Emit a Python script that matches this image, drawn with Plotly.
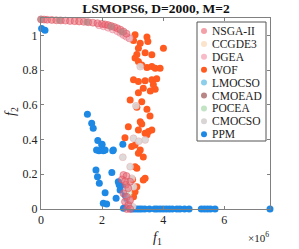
import plotly.graph_objects as go

# ---------------- data (f1 in units of 1e6) ----------------
series_names = ["NSGA-II", "CCGDE3", "DGEA", "WOF", "LMOCSO", "CMOEAD", "POCEA", "CMOCSO", "PPM"]

nsga_f1 = [0.0, 0.1, 0.2, 0.35, 0.5, 0.65, 0.8, 0.95, 1.1, 1.25, 1.4, 1.55, 1.7, 1.85, 2.0, 2.1, 2.2,
           2.3, 2.4, 2.5, 2.6, 2.7, 2.8,
           2.70, 2.80, 2.92, 2.78, 2.86, 2.70, 2.81, 2.75, 2.86, 2.81, 2.92, 2.92, 2.65, 2.75]
nsga_f2 = [1.092, 1.091, 1.09, 1.089, 1.087, 1.086, 1.085, 1.083, 1.082, 1.08, 1.078, 1.076, 1.073,
           1.07, 1.066, 1.063, 1.059, 1.054, 1.048, 1.041, 1.033, 1.022, 1.01,
           0.196, 0.19, 0.157, 0.14, 0.12, 0.09, 0.07, 0.042, 0.023, 0.0, 0.0, 0.05, 0.17, 0.16]

ccgde3_f1 = [0.4, 1.2, 2.15, 2.55]
ccgde3_f2 = [1.088, 1.08, 1.055, 1.03]

dgea_f1 = [1.9, 2.05, 2.2, 2.35, 2.5, 2.6, 2.7, 2.8, 2.9]
dgea_f2 = [1.058, 1.052, 1.044, 1.034, 1.024, 1.014, 1.002, 0.992, 0.982]

wof_f1 = [3.08, 3.47, 3.25, 3.5, 3.03, 3.19, 3.41, 3.14, 3.63, 4.01, 3.08, 3.19, 3.3, 3.47, 3.63, 3.74,
          3.9, 3.03, 3.19, 3.41, 3.63, 3.79, 3.68, 3.74, 3.35, 3.19, 3.58, 2.92, 3.3, 3.47, 3.14, 3.57,
          3.25, 3.3, 2.86, 3.19, 3.41, 3.52, 3.63, 3.47, 2.75, 2.97, 3.08, 3.25, 3.19, 3.35, 3.08, 3.14,
          3.41, 3.35, 3.08, 3.03, 3.14, 3.0]
wof_f2 = [1.003, 0.99, 0.955, 0.965, 0.97, 0.926, 0.9, 0.89, 0.888, 0.926, 0.869, 0.849, 0.83, 0.815,
          0.82, 0.81, 0.81, 0.744, 0.734, 0.738, 0.744, 0.75, 0.715, 0.69, 0.696, 0.67, 0.68, 0.628,
          0.618, 0.575, 0.586, 0.536, 0.503, 0.49, 0.474, 0.455, 0.436, 0.446, 0.455, 0.427, 0.411,
          0.36, 0.369, 0.34, 0.321, 0.3, 0.244, 0.234, 0.177, 0.167, 0.1, 0.071, 0.128, 0.17]

lmocso_f1 = [2.78, 2.85]
lmocso_f2 = [0.06, 0.03]

cmoead_f1 = [0.0, 0.6, 1.5, 2.3, 2.65]
cmoead_f2 = [1.093, 1.087, 1.077, 1.05, 1.02]

pocea_f1 = [2.82, 2.88]
pocea_f2 = [0.15, 0.09]

cmocso_f1 = [2.75, 2.9, 3.25, 3.11, 3.03, 3.41, 3.2, 2.68, 2.92, 2.97, 3.03, 2.9, 3.0, 2.8]
cmocso_f2 = [1.0, 0.985, 0.82, 0.594, 0.407, 0.398, 0.39, 0.298, 0.244, 0.177, 0.128, 0.052, 0.013, 0.11]

ppm_f1 = [0.02, 0.13, 1.52, 1.66, 1.71, 1.86, 2.0, 1.99, 1.90, 2.04, 2.35, 2.68, 1.82, 2.10, 2.37,
          1.80, 1.85, 1.91, 2.32, 2.10, 2.04, 2.15, 2.46, 2.53, 2.56, 2.59, 2.68, 2.75, 2.81, 2.70, 2.90,
          2.97, 3.05, 3.14, 3.22, 3.30, 3.40, 3.55, 3.72, 3.80, 3.90, 4.00, 4.10, 4.20, 4.30, 4.45,
          4.55, 4.70, 4.85, 5.25, 5.35, 5.45, 5.55, 5.70, 7.5]
ppm_f2 = [1.04, 1.03, 0.546, 0.494, 0.465, 0.394, 0.373, 0.369, 0.336, 0.336, 0.336, 0.373, 0.34,
          0.34, 0.34, 0.225, 0.186, 0.148, 0.21, 0.094, 0.033, 0.029, 0.062, 0.157, 0.14, 0.11, 0.128,
          0.081, 0.06, 0.004, 0.005,
          0.0, 0.0, 0.0, 0.0, 0.0, 0.0, 0.0, 0.0, 0.0, 0.0, 0.0, 0.0, 0.0, 0.0, 0.0,
          0.0, 0.0, 0.0, 0.0, 0.0, 0.0, 0.0, 0.0, 0.0]

x_ticks = [0, 2, 4, 6]
y_ticks = [0, 0.2, 0.4, 0.6, 0.8, 1.0]
y_ticktext = ["0", "0.2", "0.4", "0.6", "0.8", "1"]

# ---------------- styles ----------------
legend_colors = ["#F4A0A8", "#FCE3CC", "#F8BBC8", "#FF5A1F", "#8DCFEA", "#B98585", "#C2E4C4", "#DAD5D5", "#1E88E5"]
FONT = "Liberation Serif"
AX = "#808080"
TXT = "#222222"

fig = go.Figure()
ms = 7

fig.add_trace(go.Scatter(x=ppm_f1, y=ppm_f2, mode="markers", name="PPM", showlegend=False, cliponaxis=False,
                         marker=dict(size=ms, color="#1E88E5", line=dict(width=0))))
fig.add_trace(go.Scatter(x=wof_f1, y=wof_f2, mode="markers", name="WOF", showlegend=False,
                         marker=dict(size=ms, color="#FF5A1F", line=dict(width=0))))
fig.add_trace(go.Scatter(x=cmocso_f1, y=cmocso_f2, mode="markers", name="CMOCSO", showlegend=False,
                         marker=dict(size=ms, color="rgba(220,214,214,0.9)",
                                     line=dict(width=0.6, color="rgba(235,170,170,0.8)"))))
fig.add_trace(go.Scatter(x=lmocso_f1, y=lmocso_f2, mode="markers", name="LMOCSO", showlegend=False,
                         marker=dict(size=ms, color="rgba(141,207,234,0.5)", line=dict(width=0))))
fig.add_trace(go.Scatter(x=pocea_f1, y=pocea_f2, mode="markers", name="POCEA", showlegend=False,
                         marker=dict(size=ms, color="rgba(194,228,196,0.5)", line=dict(width=0))))
fig.add_trace(go.Scatter(x=ccgde3_f1, y=ccgde3_f2, mode="markers", name="CCGDE3", showlegend=False,
                         marker=dict(size=ms, color="rgba(252,227,204,0.6)", line=dict(width=0))))
fig.add_trace(go.Scatter(x=dgea_f1, y=dgea_f2, mode="markers", name="DGEA", showlegend=False,
                         marker=dict(size=ms, color="rgba(245,170,185,0.6)",
                                     line=dict(width=0.6, color="rgba(225,100,115,0.65)"))))
fig.add_trace(go.Scatter(x=nsga_f1, y=nsga_f2, mode="markers", name="NSGA-II", showlegend=False,
                         cliponaxis=False,
                         marker=dict(size=ms, color="rgba(232,105,118,0.55)",
                                     line=dict(width=0.7, color="rgba(220,75,90,0.7)"))))
fig.add_trace(go.Scatter(x=cmoead_f1, y=cmoead_f2, mode="markers", name="CMOEAD", showlegend=False,
                         cliponaxis=False,
                         marker=dict(size=ms, color="rgba(185,133,133,0.75)", line=dict(width=0))))

# ---------------- layout in window pixels ----------------
W, H = 299, 249
L, R, T, B = 41, 270, 18, 209          # plot box in window pixels
leg_x0, leg_x1, leg_y0, leg_y1 = 197, 266, 22, 141
row0, drow = 31, 12.9
leg_y = [row0 + drow * i for i in range(len(series_names))]


def px_x(p):
    return (p - L) / (R - L)


def px_y(p):
    return (B - p) / (B - T)


fig.add_trace(go.Scatter(x=[204] * len(series_names), y=leg_y, mode="markers", xaxis="x2", yaxis="y2",
                         showlegend=False, hoverinfo="skip", cliponaxis=False,
                         marker=dict(size=6, color=legend_colors, line=dict(width=0))))
fig.add_shape(type="rect", xref="x2", yref="y2", x0=leg_x0, x1=leg_x1, y0=leg_y0, y1=leg_y1,
              line=dict(color="#555555", width=1), fillcolor="white", layer="below")
for name, yy in zip(series_names, leg_y):
    fig.add_annotation(x=210, y=yy, xref="x2", yref="y2", text=name, showarrow=False,
                       xanchor="left", yanchor="middle",
                       font=dict(family=FONT, size=11.5, color=TXT))

axis_common = dict(showgrid=False, zeroline=False, showline=True, linecolor=AX, linewidth=1,
                   mirror="ticks", ticks="inside", ticklen=3, tickcolor=AX, automargin=False,
                   tickfont=dict(family=FONT, size=12, color=TXT))

fig.update_layout(
    template="none",
    width=W, height=H,
    margin=dict(l=L, r=W - R, t=T, b=H - B, pad=0),
    paper_bgcolor="white", plot_bgcolor="white",
    showlegend=False,
    hovermode=False,
    title=dict(text="<b>LSMOPS6, D=2000, M=2</b>", x=156 / W, xanchor="center",
               y=1 - 8.5 / H, yanchor="middle",
               font=dict(family=FONT, size=13.5, color="#111111")),
    xaxis=dict(range=[0, 7.5], tickvals=x_ticks, ticktext=[str(v) for v in x_ticks], **axis_common),
    yaxis=dict(range=[0, 1.1], tickvals=y_ticks, ticktext=y_ticktext, **axis_common),
    xaxis2=dict(overlaying="x", range=[L, R], visible=False, fixedrange=True),
    yaxis2=dict(overlaying="y", range=[B, T], visible=False, fixedrange=True),
)

fig.add_annotation(x=px_x(157), y=px_y(238), xref="paper", yref="paper",
                   text="<i>f</i><sub>1</sub>", showarrow=False, xanchor="center", yanchor="middle",
                   font=dict(family=FONT, size=14, color=TXT))
fig.add_annotation(x=px_x(11), y=px_y(112), xref="paper", yref="paper",
                   text="<i>f</i><sub>2</sub>", showarrow=False, xanchor="center", yanchor="middle",
                   textangle=-90, font=dict(family=FONT, size=14, color=TXT))
fig.add_annotation(x=px_x(271), y=px_y(237), xref="paper", yref="paper", text="×10<sup>6</sup>",
                   showarrow=False, xanchor="right", yanchor="middle",
                   font=dict(family=FONT, size=11, color=TXT))

fig.write_html("out.html", config={"displayModeBar": False, "staticPlot": True},
               post_script="document.body.style.margin='0';document.body.style.padding='0';")
